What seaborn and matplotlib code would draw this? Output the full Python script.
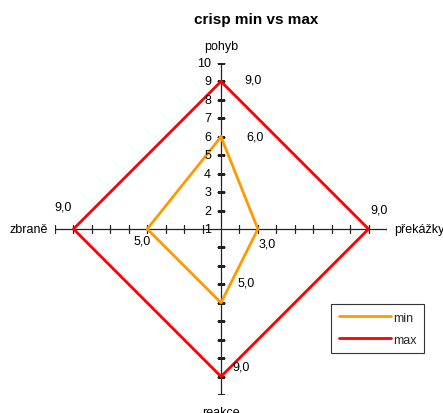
import numpy as np
import pandas as pd
import matplotlib
matplotlib.use("Agg")
import matplotlib.pyplot as plt
import seaborn as sns

# Chart data
categories = ["pohyb", "překážky", "reakce", "zbraně"]
min_values = [6, 3, 5, 5]
max_values = [9, 9, 9, 9]
series_names = ["min", "max"]
radial_ticks = [1, 2, 3, 4, 5, 6, 7, 8, 9, 10]

sns.set_theme(style="white")
plt.rcParams["font.family"] = ["Liberation Sans", "DejaVu Sans"]

W, H = 443, 414
fig = plt.figure(figsize=(W / 100, H / 100), dpi=100)
fig.patch.set_facecolor("white")

# Polar axes: centre at (221, 230) px, radius 166 px
cx, cy, R = 221, 230, 166
ax = fig.add_axes([(cx - R) / W, (H - cy - R) / H, 2 * R / W, 2 * R / H],
                  projection="polar")
ax.set_theta_zero_location("N")
ax.set_theta_direction(-1)
ax.set_facecolor("none")
ax.grid(False)
ax.spines["polar"].set_visible(False)

n = len(categories)
angles = np.deg2rad(np.arange(n) * 360.0 / n)

# Long-form table, polygons closed by repeating the first point
rows = []
for name, vals in zip(series_names, [min_values, max_values]):
    for i in range(n + 1):
        k = i % n
        rows.append({"series": name, "theta": angles[k] if i < n else angles[0] + 2 * np.pi,
                     "value": vals[k], "cat": categories[k]})
df = pd.DataFrame(rows)

palette = {"min": "#FF9900", "max": "#FF0000"}

# Radial axis lines with cross ticks
for i, th in enumerate(angles):
    ax.plot([th, th], [radial_ticks[0], radial_ticks[-1]], color="#222222", lw=0.9, zorder=1)
    marker = "_" if i % 2 == 0 else "|"
    ax.plot([th] * (len(radial_ticks) - 1), radial_ticks[1:], linestyle="none",
            marker=marker, markersize=5.5, markeredgewidth=0.9, color="#222222", zorder=1)

sns.lineplot(data=df, x="theta", y="value", hue="series", palette=palette,
             sort=False, estimator=None, lw=2, ax=ax, zorder=3)

ax.set_rlim(radial_ticks[0], radial_ticks[-1])
ax.set_xticks([])
ax.set_yticks([])
ax.set_xlabel("")
ax.set_ylabel("")

# Radial tick labels along the top axis
for r in radial_ticks:
    ax.annotate(str(r), (angles[0], r), xytext=(-10, 0), textcoords="offset pixels",
                ha="right", va="center", fontsize=9, color="black", annotation_clip=False)

# Category labels at the ends of the axes
cat_offsets = [((0, 17), "center"), ((7, 0), "left"), ((0, -17), "center"), ((-7, 0), "right")]
for th, cat, (off, ha) in zip(angles, categories, cat_offsets):
    ax.annotate(cat, (th, radial_ticks[-1]), xytext=off, textcoords="offset pixels",
                ha=ha, va="center", fontsize=9, color="black", annotation_clip=False)

# Value labels
min_offsets = [(34, 0), (9, -15), (25, 20), (-5, -12)]
max_offsets = [(32, 2), (11, 19), (20, 10), (-10, 23)]
for vals, offs in [(min_values, min_offsets), (max_values, max_offsets)]:
    for th, v, off in zip(angles, vals, offs):
        ax.annotate(f"{v:.1f}".replace(".", ","), (th, v), xytext=off,
                    textcoords="offset pixels", ha="center", va="center",
                    fontsize=9, color="black", annotation_clip=False, zorder=4)

# Legend
handles, labels = ax.get_legend_handles_labels()
leg = ax.legend(handles, labels, loc="upper left",
                bbox_to_anchor=(331 / W, 1 - 305 / H), bbox_transform=fig.transFigure,
                frameon=True, fancybox=False, edgecolor="black", fontsize=9,
                handlelength=4.2, handletextpad=0.15, borderpad=0.6,
                labelspacing=0.8, borderaxespad=0)
leg.get_frame().set_linewidth(0.8)
for line in leg.get_lines():
    line.set_linewidth(2)

fig.text(256 / W, 1 - 20 / H, "crisp min vs max", ha="center", va="center",
         fontsize=11, fontweight="bold", color="black")

fig.savefig("out.png", dpi=100)
